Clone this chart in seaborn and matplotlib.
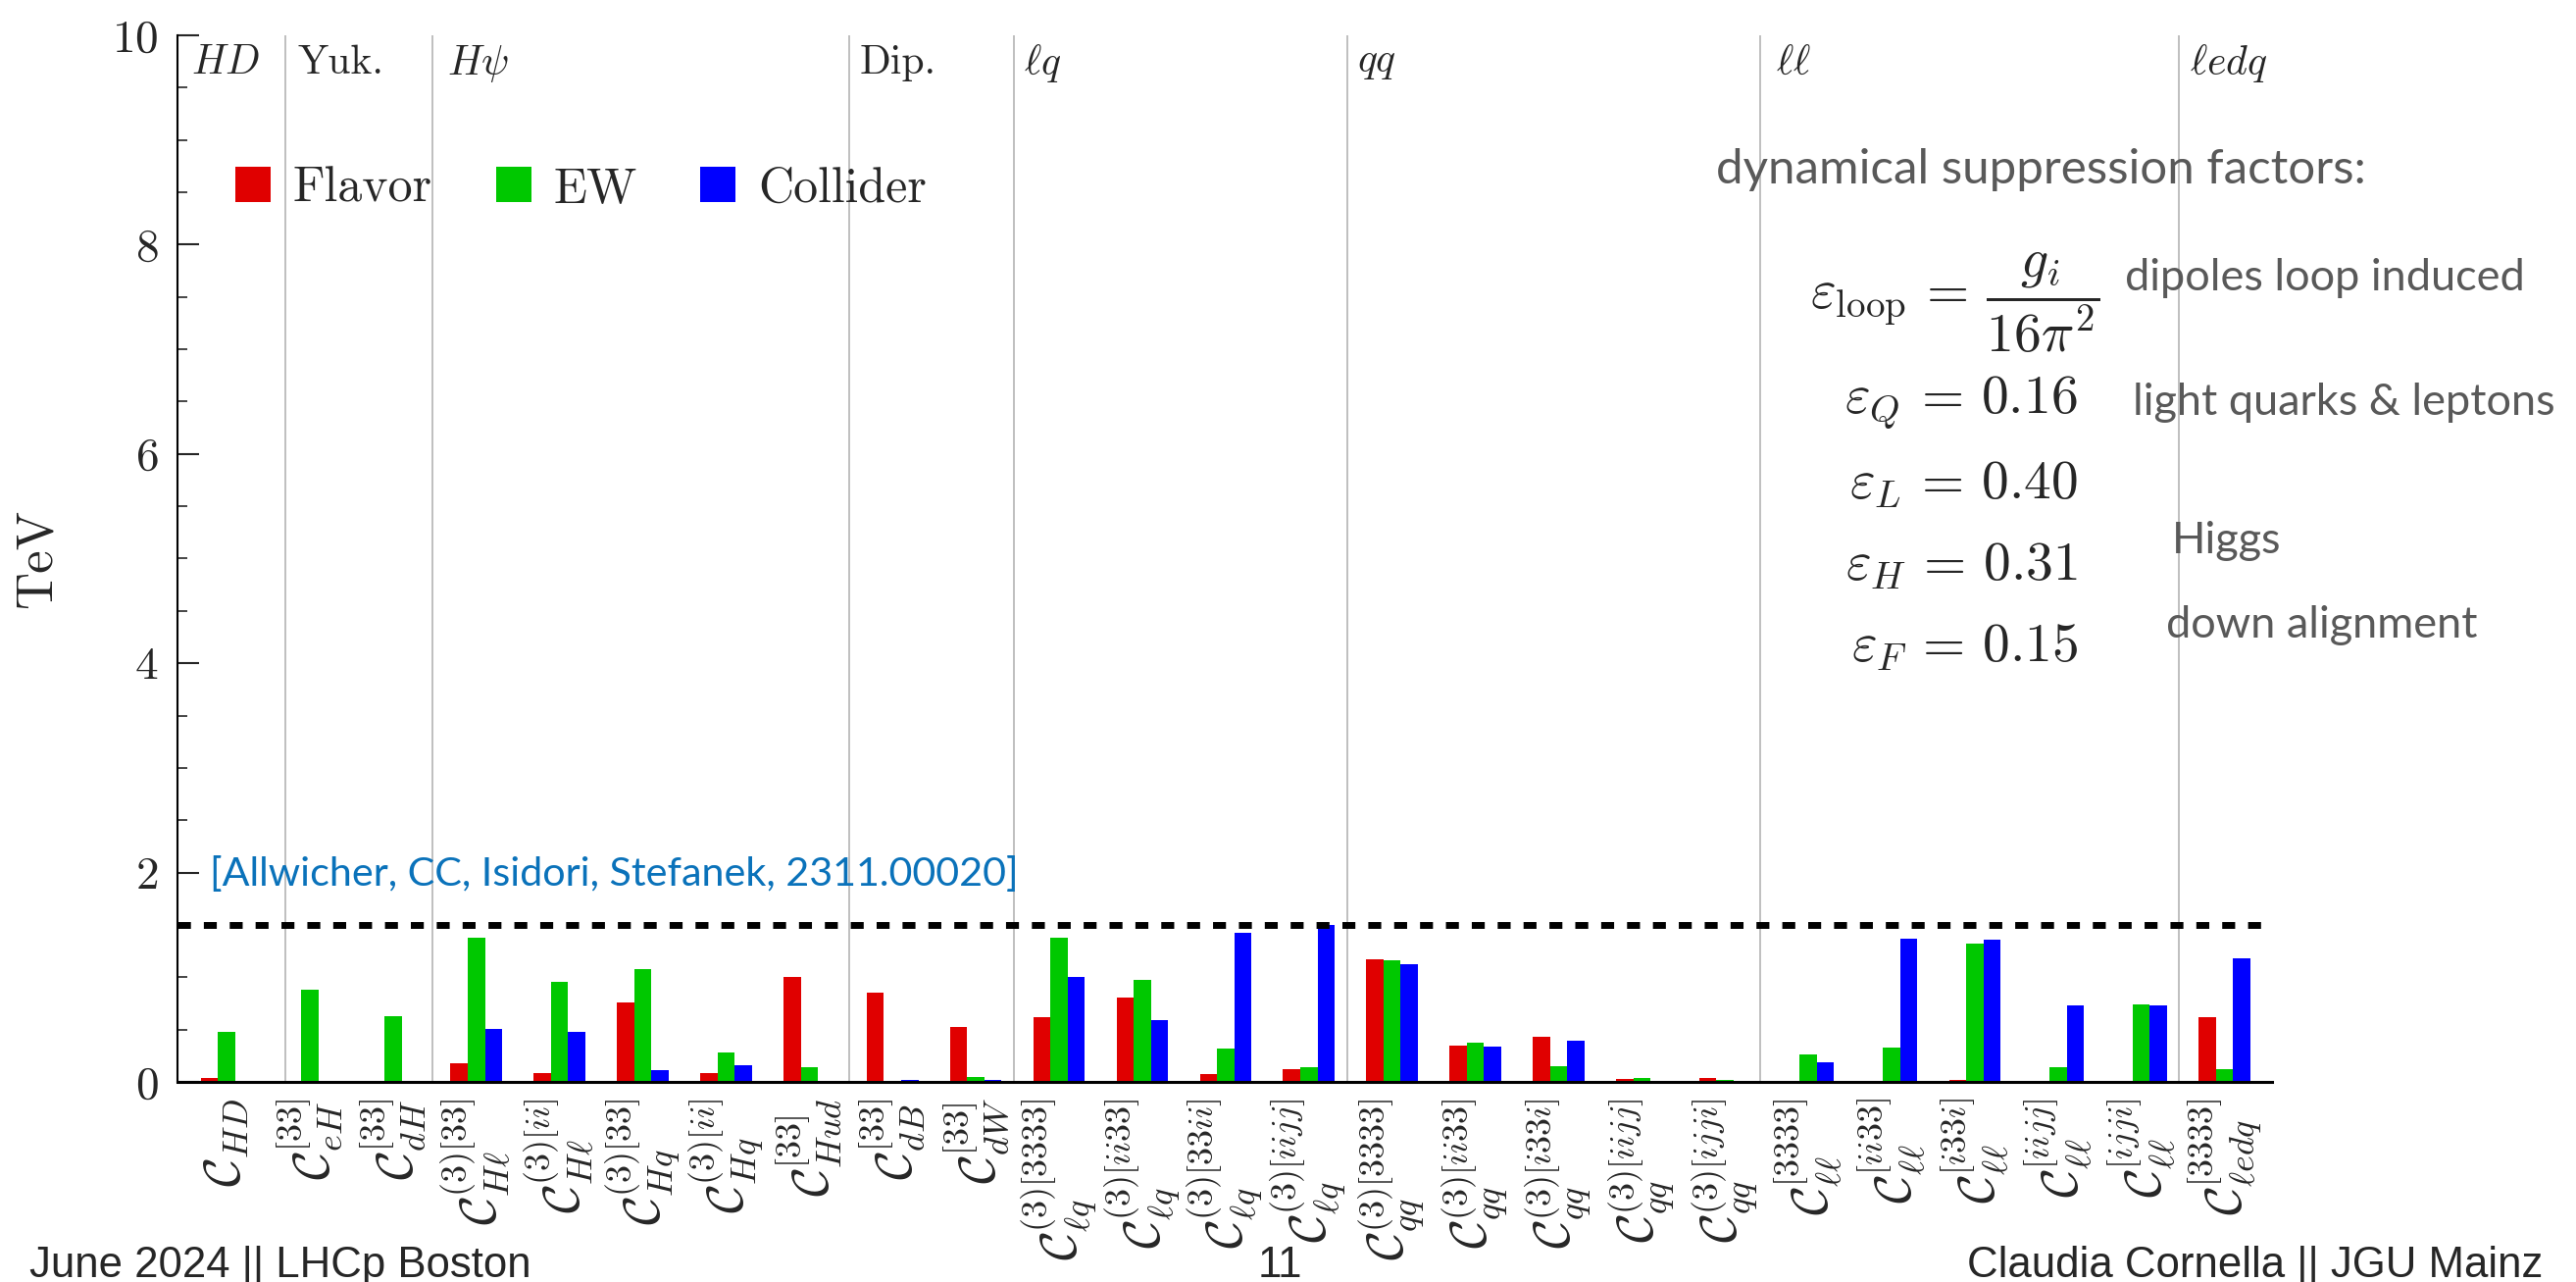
import matplotlib
matplotlib.use("Agg")
import matplotlib.pyplot as plt
import seaborn as sns
import pandas as pd
from matplotlib.ticker import MultipleLocator

# --- data (TeV) ---
coefficients = [
    r"$\mathcal{C}_{HD}$",
    r"$\mathcal{C}^{[33]}_{eH}$",
    r"$\mathcal{C}^{[33]}_{dH}$",
    r"$\mathcal{C}^{(3)[33]}_{H\ell}$",
    r"$\mathcal{C}^{(3)[ii]}_{H\ell}$",
    r"$\mathcal{C}^{(3)[33]}_{Hq}$",
    r"$\mathcal{C}^{(3)[ii]}_{Hq}$",
    r"$\mathcal{C}^{[33]}_{Hud}$",
    r"$\mathcal{C}^{[33]}_{dB}$",
    r"$\mathcal{C}^{[33]}_{dW}$",
    r"$\mathcal{C}^{(3)[3333]}_{\ell q}$",
    r"$\mathcal{C}^{(3)[ii33]}_{\ell q}$",
    r"$\mathcal{C}^{(3)[33ii]}_{\ell q}$",
    r"$\mathcal{C}^{(3)[iijj]}_{\ell q}$",
    r"$\mathcal{C}^{(3)[3333]}_{qq}$",
    r"$\mathcal{C}^{(3)[ii33]}_{qq}$",
    r"$\mathcal{C}^{(3)[i33i]}_{qq}$",
    r"$\mathcal{C}^{(3)[iijj]}_{qq}$",
    r"$\mathcal{C}^{(3)[ijji]}_{qq}$",
    r"$\mathcal{C}^{[3333]}_{\ell\ell}$",
    r"$\mathcal{C}^{[ii33]}_{\ell\ell}$",
    r"$\mathcal{C}^{[i33i]}_{\ell\ell}$",
    r"$\mathcal{C}^{[iijj]}_{\ell\ell}$",
    r"$\mathcal{C}^{[ijji]}_{\ell\ell}$",
    r"$\mathcal{C}^{[3333]}_{\ell edq}$",
]
flavor = [0.04, 0, 0, 0.18, 0.08, 0.76, 0.08, 1.00, 0.85, 0.52,
          0.62, 0.81, 0.075, 0.12, 1.17, 0.35, 0.43, 0.03, 0.035,
          0.01, 0.01, 0.02, 0.006, 0.006, 0.62]
ew = [0.48, 0.88, 0.63, 1.38, 0.96, 1.08, 0.28, 0.14, 0.006, 0.05,
      1.38, 0.97, 0.32, 0.14, 1.16, 0.37, 0.15, 0.04, 0.02,
      0.26, 0.33, 1.32, 0.14, 0.74, 0.12]
collider = [0.006, 0, 0, 0.51, 0.48, 0.11, 0.16, 0, 0.016, 0.02,
            1.00, 0.59, 1.42, 1.50, 1.125, 0.34, 0.39, 0.006, 0.006,
            0.19, 1.37, 1.36, 0.73, 0.73, 1.18]
sources = ["Flavor", "EW", "Collider"]
colors = ["#e00000", "#00c800", "#0000ff"]
reference_scale = 1.5

group_names = [r"$HD$", "Yuk.", r"$H\psi$", "Dip.", r"$\ell q$", r"$qq$", r"$\ell\ell$", r"$\ell edq$"]
group_label_x = [-0.42, 0.85, 2.65, 7.6, 9.58, 13.58, 18.61, 23.58]
separators = [0.7, 2.47, 7.48, 9.46, 13.46, 18.42, 23.45]

df = pd.DataFrame({
    "coef": coefficients * 3,
    "TeV": flavor + ew + collider,
    "source": [s for s in sources for _ in coefficients],
})

sns.set_style("white")
plt.rcParams["font.family"] = ["cmr10"]
plt.rcParams["mathtext.fontset"] = "cm"
plt.rcParams["axes.formatter.use_mathtext"] = True

fig = plt.figure(figsize=(26.27, 13.07), dpi=100)
ax = fig.add_axes([0.0689, 0.1561, 0.8131, 0.8164])

for x in separators:
    ax.axvline(x, color="#b4b4b4", lw=1.2, zorder=0)

sns.barplot(data=df, x="coef", y="TeV", hue="source", order=coefficients,
            hue_order=sources, palette=colors, saturation=1, width=0.62,
            linewidth=0, ax=ax, zorder=2)

ax.axhline(reference_scale, color="k", lw=5, dashes=(1.9, 1.9), zorder=3)

ax.set_xlim(-0.59, 24.57)
ax.set_ylim(0, 10)
ax.yaxis.set_major_locator(MultipleLocator(2))
ax.yaxis.set_minor_locator(MultipleLocator(0.5))
ax.tick_params(axis="y", which="major", direction="in", length=16, width=1.5,
               labelsize=34, pad=14, left=True)
ax.tick_params(axis="y", which="minor", direction="in", length=7, width=1.2, left=True)
ax.tick_params(axis="x", length=0, pad=12, labelsize=37)
plt.setp(ax.get_xticklabels(), rotation=90, va="top", ha="center")

for side in ["top", "right"]:
    ax.spines[side].set_visible(False)
ax.spines["left"].set_linewidth(1.5)
ax.spines["bottom"].set_linewidth(2.2)
ax.spines["left"].set_color("k")
ax.spines["bottom"].set_color("k")

ax.set_xlabel("")
ax.set_ylabel("TeV", fontsize=38)
ax.yaxis.set_label_coords(-0.056, 0.5)

for name, x in zip(group_names, group_label_x):
    ax.text(x, 9.73, name, fontsize=30, ha="left", va="center")

handles, labels = ax.get_legend_handles_labels()
ax.legend(handles, labels, loc="center left", bbox_to_anchor=(0.0276, 0.853),
          ncol=3, frameon=False, fontsize=36, handlelength=0.72, handleheight=0.72,
          handletextpad=0.45, columnspacing=1.3, borderpad=0, borderaxespad=0)

# annotation block on the right
gray = "#595959"
lato = ["Lato", "DejaVu Sans"]
fig.text(0.666, 0.868, "dynamical suppression factors:", fontsize=35.5, color=gray,
         family=lato, ha="left", va="center")
fig.text(0.815, 0.764, r"$\varepsilon_{\rm loop} \, = \, \dfrac{g_i}{16\pi^2}$", fontsize=40,
         ha="right", va="center")
eqs = [r"$\varepsilon_Q \, = \, 0.16$", r"$\varepsilon_L \, = \, 0.40$",
       r"$\varepsilon_H \, = \, 0.31$", r"$\varepsilon_F \, = \, 0.15$"]
for txt, y in zip(eqs, [0.686, 0.622, 0.558, 0.495]):
    fig.text(0.8066, y, txt, fontsize=40, ha="right", va="center")
notes = ["dipoles loop induced", "light quarks & leptons", "Higgs", "down alignment"]
for txt, x, y in zip(notes, [0.825, 0.828, 0.843, 0.841], [0.783, 0.686, 0.578, 0.512]):
    fig.text(x, y, txt, fontsize=32.5, color=gray, family=lato, ha="left", va="center")

fig.text(0.0815, 0.318, "[Allwicher, CC, Isidori, Stefanek, 2311.00020]", fontsize=29.7,
         color="#0a72ba", family=lato, ha="left", va="center")

# footer
foot = ["Liberation Sans Narrow", "Liberation Sans"]
fig.text(0.0114, 0.004, "June 2024 || LHCp Boston", fontsize=31.5, family=foot,
         ha="left", va="baseline")
fig.text(0.497, 0.004, "11", fontsize=31.5, family=foot, ha="center", va="baseline")
fig.text(0.987, 0.004, "Claudia Cornella || JGU Mainz", fontsize=31.5, family=foot,
         ha="right", va="baseline")

fig.savefig("out.png", dpi=100)
